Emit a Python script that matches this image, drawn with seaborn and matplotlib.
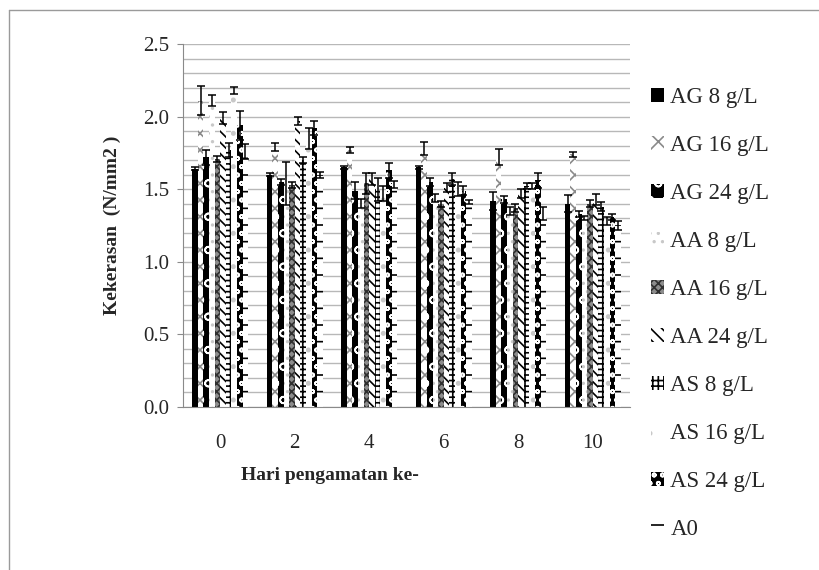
import numpy as np
import pandas as pd
import matplotlib
matplotlib.use("Agg")
import matplotlib.pyplot as plt
from matplotlib.lines import Line2D
from matplotlib.ticker import MultipleLocator, FormatStrFormatter
import seaborn as sns

days = ["0", "2", "4", "6", "8", "10"]
series = ["AG 8 g/L", "AG 16 g/L", "AG 24 g/L", "AA 8 g/L", "AA 16 g/L",
          "AA 24 g/L", "AS 8 g/L", "AS 16 g/L", "AS 24 g/L", "A0"]

ag8 = [1.64, 1.60, 1.65, 1.65, 1.42, 1.40]
ag16 = [2.11, 1.79, 1.77, 1.78, 1.72, 1.74]
ag24 = [1.72, 1.55, 1.49, 1.55, 1.43, 1.33]
aa8 = [2.11, 1.54, 1.40, 1.44, 1.35, 1.30]
aa16 = [1.71, 1.53, 1.54, 1.40, 1.37, 1.40]
aa24 = [1.99, 1.97, 1.57, 1.51, 1.47, 1.43]
as8 = [1.77, 1.70, 1.50, 1.57, 1.52, 1.38]
as16 = [2.18, 1.85, 1.47, 1.50, 1.52, 1.28]
as24 = [1.94, 1.92, 1.63, 1.49, 1.56, 1.31]
a0 = [1.76, 1.60, 1.53, 1.41, 1.33, 1.25]

ag8_err = [0.01, 0.01, 0.01, 0.01, 0.06, 0.06]
ag16_err = [0.10, 0.03, 0.02, 0.045, 0.055, 0.015]
ag24_err = [0.05, 0.02, 0.06, 0.03, 0.025, 0.02]
aa8_err = [0.04, 0.15, 0.03, 0.03, 0.03, 0.015]
aa16_err = [0.02, 0.02, 0.07, 0.02, 0.025, 0.025]
aa24_err = [0.04, 0.03, 0.04, 0.03, 0.03, 0.04]
as8_err = [0.05, 0.02, 0.08, 0.04, 0.02, 0.03]
as16_err = [0.025, 0.07, 0.05, 0.05, 0.02, 0.03]
as24_err = [0.10, 0.05, 0.05, 0.03, 0.055, 0.02]
a0_err = [0.05, 0.02, 0.025, 0.015, 0.045, 0.03]

values = [ag8, ag16, ag24, aa8, aa16, aa24, as8, as16, as24, a0]
errors = [ag8_err, ag16_err, ag24_err, aa8_err, aa16_err, aa24_err,
          as8_err, as16_err, as24_err, a0_err]

rows = []
for s, vals in zip(series, values):
    for d, v in zip(days, vals):
        rows.append({"day": d, "series": s, "value": v})
df = pd.DataFrame(rows)

# styles: facecolor, hatch, hatch colour
styles = [
    ("black", None, "black"),
    ("white", "xx", "#8a8a8a"),
    ("black", "o", "white"),
    ("white", "..", "#c8c8c8"),
    ("#8c8c8c", "xxxx", "#303030"),
    ("white", "\\\\\\", "black"),
    ("white", "+++", "black"),
    ("white", ".", "#c8c8c8"),
    ("black", "oo", "white"),
    ("white", "-", "black"),
]

sns.set_style("white")
plt.rcParams["font.family"] = ["Liberation Serif", "DejaVu Serif"]
plt.rcParams["hatch.linewidth"] = 1.2

fig = plt.figure(figsize=(8.2, 5.7), dpi=100)
ax = fig.add_axes([183 / 820, 1 - 407 / 570, (630 - 183) / 820, (407 - 44) / 570])

sns.barplot(data=df, x="day", y="value", hue="series", order=days,
            hue_order=series, width=0.75, errorbar=None, ax=ax, legend=False,
            zorder=2)

for cont, (fc, hatch, hc), err, vals in zip(ax.containers, styles, errors, values):
    xs = []
    for p in cont.patches:
        p.set_facecolor(fc)
        p.set_edgecolor(hc)
        p.set_linewidth(0)
        p.set_hatch(hatch)
        xs.append(p.get_x() + p.get_width() / 2)
    ax.errorbar(xs, vals, yerr=err, fmt="none", ecolor="black",
                elinewidth=1.1, capsize=3, capthick=1.1, zorder=3)

ax.set_ylim(0, 2.5)
ax.set_xlim(-0.5, 5.5)
ax.yaxis.set_major_locator(MultipleLocator(0.5))
ax.yaxis.set_minor_locator(MultipleLocator(0.1))
ax.yaxis.set_major_formatter(FormatStrFormatter("%.1f"))
ax.grid(True, which="both", axis="y", color="#b8b8b8", linewidth=1.0, zorder=0)
ax.set_axisbelow(True)
for side in ["top", "right"]:
    ax.spines[side].set_visible(False)
ax.spines["left"].set_color("#8a8a8a")
ax.spines["bottom"].set_color("#8a8a8a")
ax.tick_params(axis="y", which="major", left=True, length=4, color="#8a8a8a",
               labelsize=15, pad=6)
ax.tick_params(axis="y", which="minor", left=False)
ax.tick_params(axis="x", bottom=False, labelsize=15, pad=16)
ax.set_xlabel("Hari pengamatan ke-", fontsize=14, fontweight="bold")
ax.xaxis.set_label_coords((330 - 183) / 447, (407 - 476) / 363, transform=ax.transAxes)
ax.xaxis.label.set_verticalalignment("center")
ax.set_ylabel("Kekerasan  (N/mm2 )", fontsize=14, fontweight="bold", labelpad=16)

handles = list(ax.containers)
fig.legend(handles, series, loc="upper left", bbox_to_anchor=(651 / 820, 1 - 87 / 570),
           frameon=False, fontsize=16.5, handlelength=0.55, handleheight=0.55,
           handletextpad=0.3, labelspacing=1.18, borderpad=0, borderaxespad=0)

fig.add_artist(Line2D([9 / 820, 1.0], [1 - 9.5 / 570, 1 - 9.5 / 570],
                      transform=fig.transFigure, color="#9a9a9a", lw=1))
fig.add_artist(Line2D([9.5 / 820, 9.5 / 820], [0, 1 - 9.5 / 570],
                      transform=fig.transFigure, color="#9a9a9a", lw=1))

fig.savefig("out.png", dpi=100)
